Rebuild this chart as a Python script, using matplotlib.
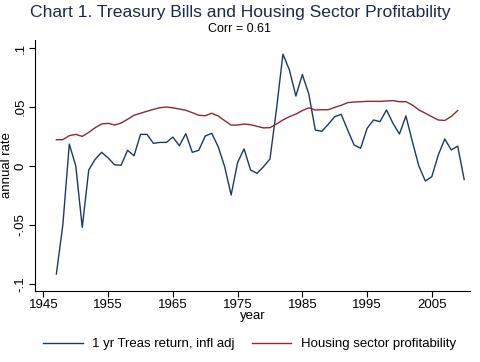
import matplotlib.pyplot as plt

plt.rcParams['font.family'] = ['Liberation Sans', 'DejaVu Sans']

years_treas = list(range(1947, 2011))
treas_return = [
    -0.0915, -0.050, 0.0186, 0.0, -0.052, -0.0034, 0.0057, 0.0116, 0.0068, 0.001,
    0.0006, 0.0133, 0.0087, 0.0268, 0.0268, 0.0192, 0.020, 0.020, 0.0245, 0.0172,
    0.0274, 0.0116, 0.0133, 0.0254, 0.0277, 0.0164, -0.0006, -0.0246, 0.0030, 0.0145,
    -0.0034, -0.0062, -0.0006, 0.0060, 0.048, 0.0948, 0.0814, 0.0593, 0.0775, 0.0610,
    0.0305, 0.0294, 0.0353, 0.0418, 0.0438, 0.0305, 0.0178, 0.015, 0.0319, 0.039,
    0.0376, 0.0475, 0.0362, 0.0271, 0.0424, 0.0206, 0.0, -0.0127, -0.009, 0.0093,
    0.0229, 0.0136, 0.0169, -0.0115,
]

years_house = list(range(1947, 2010))
house_profit = [
    0.0223, 0.0223, 0.0257, 0.0268, 0.0251, 0.0285, 0.0325, 0.0356, 0.0362, 0.0347,
    0.0364, 0.0396, 0.043, 0.0447, 0.0464, 0.048, 0.0494, 0.050, 0.0493, 0.0483,
    0.0472, 0.0452, 0.043, 0.0426, 0.0447, 0.0424, 0.0384, 0.0347, 0.0347, 0.0356,
    0.035, 0.0336, 0.0323, 0.0325, 0.0356, 0.039, 0.0418, 0.044, 0.047, 0.0493,
    0.0475, 0.0477, 0.0477, 0.0497, 0.0514, 0.0537, 0.0542, 0.0545, 0.0548, 0.0548,
    0.0548, 0.0551, 0.0554, 0.0545, 0.0545, 0.0517, 0.0475, 0.0447, 0.0418, 0.039,
    0.0386, 0.042, 0.047,
]

xticks = [1945, 1955, 1965, 1975, 1985, 1995, 2005]
yticks = [-0.1, -0.05, 0, 0.05, 0.1]
ytick_labels = ['-.1', '-.05', '0', '.05', '.1']

fig = plt.figure(figsize=(4.8, 3.62), dpi=100)
ax = fig.add_axes([35 / 480, 1 - 290.7 / 362, 435 / 480, 250.7 / 362])

ax.plot(years_treas, treas_return, color='#1a3a66', lw=1.0, label='1 yr Treas return, infl adj')
ax.plot(years_house, house_profit, color='#8b2a33', lw=1.0, label='Housing sector profitability')

ax.set_xlim(1943.7, 2010.9)
ax.set_ylim(-0.1057, 0.1068)
ax.set_xticks(xticks)
ax.set_yticks(yticks)
ax.set_yticklabels(ytick_labels, rotation=90, va='center')
ax.tick_params(labelsize=9.5, length=4, width=0.8, pad=2)
for s in ['top', 'right']:
    ax.spines[s].set_visible(False)
for s in ['left', 'bottom']:
    ax.spines[s].set_linewidth(0.8)

ax.set_xlabel('year', fontsize=9.5, labelpad=-1)
ax.set_ylabel('annual rate', fontsize=9.5, labelpad=1)

fig.text(0.5, 1 - 13 / 362, 'Chart 1. Treasury Bills and Housing Sector Profitability',
         ha='center', va='center', fontsize=12.6, color='#1a2a4a')
fig.text(0.5, 1 - 29.5 / 362, 'Corr = 0.61', ha='center', va='center', fontsize=9)

fig.legend(loc='center', bbox_to_anchor=(0.52, 1 - 344 / 362), ncol=2, frameon=False,
           fontsize=9.5, handlelength=3.0, columnspacing=1.3, handletextpad=0.7)

fig.savefig('out.png', dpi=100)
